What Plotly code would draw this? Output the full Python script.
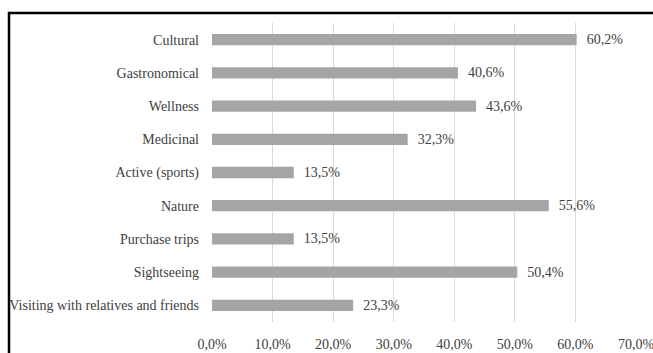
import plotly.graph_objects as go

# Travel motivation categories (top to bottom) and share of respondents, %
categories = [
    "Cultural",
    "Gastronomical",
    "Wellness",
    "Medicinal",
    "Active (sports)",
    "Nature",
    "Purchase trips",
    "Sightseeing",
    "Visiting with relatives and friends",
]
shares = [60.2, 40.6, 43.6, 32.3, 13.5, 55.6, 13.5, 50.4, 23.3]
x_ticks = [0, 10, 20, 30, 40, 50, 60, 70]
x_tick_labels = ["0,0%", "10,0%", "20,0%", "30,0%", "40,0%", "50,0%", "60,0%", "70,0%"]

W, H = 653, 353
left, right, top, bottom = 212, 17, 23, 31

font_family = "Liberation Serif"
text_color = "#404040"

fig = go.Figure(
    go.Bar(
        y=categories,
        x=shares,
        orientation="h",
        marker=dict(color="#A5A5A5", line=dict(width=0)),
        texttemplate="  %{x:.1f}%",
        textposition="outside",
        constraintext="none",
        cliponaxis=False,
        textfont=dict(family=font_family, size=14, color=text_color),
        width=0.34,
    )
)

fig.update_layout(
    width=W,
    height=H,
    margin=dict(l=left, r=right, t=top, b=bottom, pad=0, autoexpand=False),
    paper_bgcolor="white",
    plot_bgcolor="white",
    separators=",.",
    showlegend=False,
    font=dict(family=font_family, size=14, color=text_color),
    xaxis=dict(
        range=[0, 70],
        tickvals=x_ticks,
        ticktext=x_tick_labels,
        showgrid=True,
        gridcolor="#D9D9D9",
        gridwidth=1,
        zeroline=False,
        showline=False,
        ticks="",
        automargin=False,
        ticklabeloverflow="allow",
        ticklabelstandoff=12,
        tickfont=dict(family=font_family, size=14, color=text_color),
    ),
    yaxis=dict(
        autorange="reversed",
        showgrid=False,
        zeroline=False,
        showline=False,
        ticks="",
        automargin=False,
        ticklabeloverflow="allow",
        ticklabelstandoff=12,
        tickfont=dict(family=font_family, size=14, color=text_color),
    ),
)

# Chart frame (black border around the chart area; right and bottom edges run off the page)
pw = W - left - right
ph = H - top - bottom
fig.add_shape(
    type="rect",
    xref="paper",
    yref="paper",
    x0=(9 - left) / pw,
    x1=(W + 40 - left) / pw,
    y0=-(H + 40 - top - ph) / ph,
    y1=1 + (top - 13) / ph,
    line=dict(color="black", width=2.5),
    fillcolor="rgba(0,0,0,0)",
    layer="above",
)

fig.write_html("out.html")
